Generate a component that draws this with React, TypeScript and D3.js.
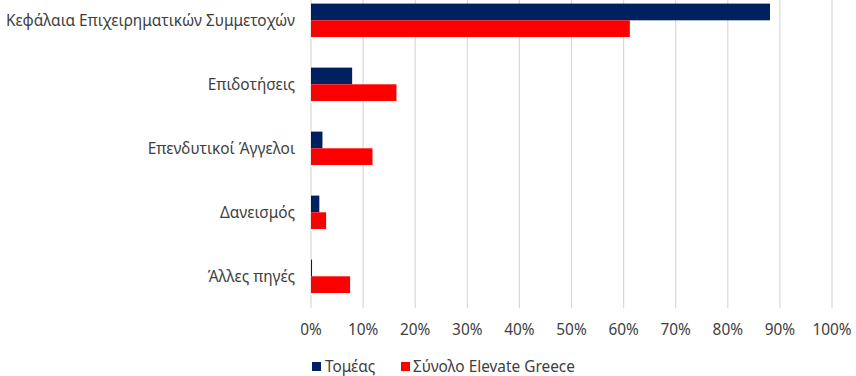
import React from "react";
import * as d3 from "d3";

const categories = [
  "Κεφάλαια Επιχειρηματικών Συμμετοχών",
  "Επιδοτήσεις",
  "Επενδυτικοί Άγγελοι",
  "Δανεισμός",
  "Άλλες πηγές",
];
const sectorValues = [88.1, 7.9, 2.2, 1.6, 0.2];
const totalValues = [61.2, 16.4, 11.8, 2.9, 7.5];
const seriesNames = ["Τομέας", "Σύνολο Elevate Greece"];
const tickValues = [0, 10, 20, 30, 40, 50, 60, 70, 80, 90, 100];

const W = 856;
const H = 376;
const NAVY = "#002060";
const RED = "#FF0000";
const GRID = "#D9D9D9";
const TEXT = "#404040";
const FONT = "'Noto Sans', 'Open Sans', sans-serif";
const FS = 15.4;

export default function App() {
  const x = d3.scaleLinear().domain([0, 100]).range([311, 832]);
  const y = d3
    .scaleBand<string>()
    .domain(categories)
    .range([-11.7, 308.3])
    .paddingInner(0.478)
    .paddingOuter(0.239);
  const inner = d3
    .scaleBand<string>()
    .domain(seriesNames)
    .range([0, y.bandwidth()]);
  const values = [sectorValues, totalValues];
  const colors = [NAVY, RED];

  return (
    <div style={{ position: "absolute", left: 0, top: 0 }}>
      <svg width={W} height={H} style={{ display: "block", background: "#fff" }}>
        {tickValues.map((t) => (
          <line
            key={"g" + t}
            x1={x(t)}
            x2={x(t)}
            y1={-11.7}
            y2={308.3}
            stroke={GRID}
            strokeWidth={1.2}
          />
        ))}
        {categories.map((c, i) => (
          <g key={c}>
            {values.map((vals, s) => (
              <rect
                key={s}
                x={x(0)}
                y={(y(c) as number) + (inner(seriesNames[s]) as number)}
                width={x(vals[i]) - x(0)}
                height={inner.bandwidth()}
                fill={colors[s]}
              />
            ))}
            <text
              x={295}
              y={(y(c) as number) + y.bandwidth() / 2}
              textAnchor="end"
              dominantBaseline="central"
              fontFamily={FONT}
              fontSize={FS}
              fill={TEXT}
            >
              {c}
            </text>
          </g>
        ))}
        {tickValues.map((t) => (
          <text
            key={"t" + t}
            x={x(t)}
            y={329}
            textAnchor="middle"
            dominantBaseline="central"
            fontFamily={FONT}
            fontSize={FS}
            fill={TEXT}
          >
            {t + "%"}
          </text>
        ))}
        <g>
          <rect x={312} y={362} width={9} height={9} fill={NAVY} />
          <text x={325} y={366} dominantBaseline="central" fontFamily={FONT} fontSize={FS} fill={TEXT}>
            {seriesNames[0]}
          </text>
          <rect x={401} y={362} width={9} height={9} fill={RED} />
          <text x={413} y={366} dominantBaseline="central" fontFamily={FONT} fontSize={FS} fill={TEXT}>
            {seriesNames[1]}
          </text>
        </g>
      </svg>
    </div>
  );
}
